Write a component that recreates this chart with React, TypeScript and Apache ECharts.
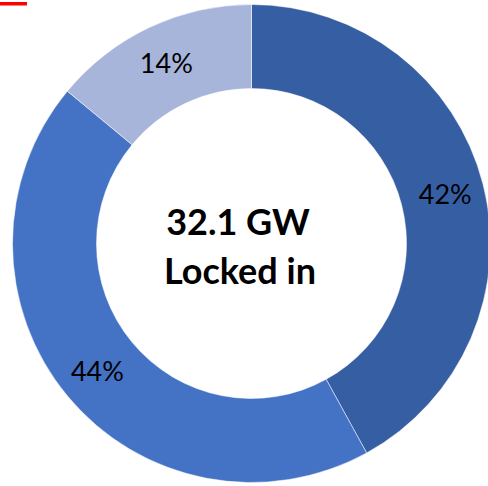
import React, { useEffect, useRef } from "react";
import * as echarts from "echarts";

const categories = ["A", "B", "C"];
const values = [42, 44, 14];
const colors = ["#365FA3", "#4472C4", "#A7B5DA"];
const centerLines = ["32.1 GW", "Locked in"];

export default function App() {
  const ref = useRef<HTMLDivElement>(null);
  useEffect(() => {
    const chart = echarts.init(ref.current!, undefined, { renderer: "svg" });
    chart.setOption({
      animation: false,
      graphic: [
        { type: "rect", shape: { x: 0, y: 2, width: 27, height: 3.5 }, style: { fill: "#FF0000" } },
        {
          type: "text",
          x: 238,
          y: 221,
          style: {
            text: centerLines[0],
            font: "bold 36px Lato",
            fill: "#000",
            align: "center",
            verticalAlign: "middle",
          },
        },
        {
          type: "text",
          x: 240,
          y: 270,
          style: {
            text: centerLines[1],
            font: "bold 36px Lato",
            fill: "#000",
            align: "center",
            verticalAlign: "middle",
          },
        },
      ],
      series: [
        {
          type: "pie",
          center: [251.5, 243.5],
          radius: [155, 239],
          startAngle: 90,
          clockwise: true,
          silent: true,
          itemStyle: { borderColor: "#ffffff", borderWidth: 0.5 },
          label: {
            show: true,
            position: "inside",
            formatter: (p: any) => p.value + "%",
            color: "#000",
            fontFamily: "Lato",
            fontSize: 27,
          },
          labelLine: { show: false },
          data: categories.map((c, i) => ({
            name: c,
            value: values[i],
            itemStyle: { color: colors[i] },
          })),
        },
      ],
    });
    return () => chart.dispose();
  }, []);
  return (
    <div
      ref={ref}
      style={{ position: "absolute", left: 0, top: 0, width: 488, height: 486 }}
    />
  );
}
